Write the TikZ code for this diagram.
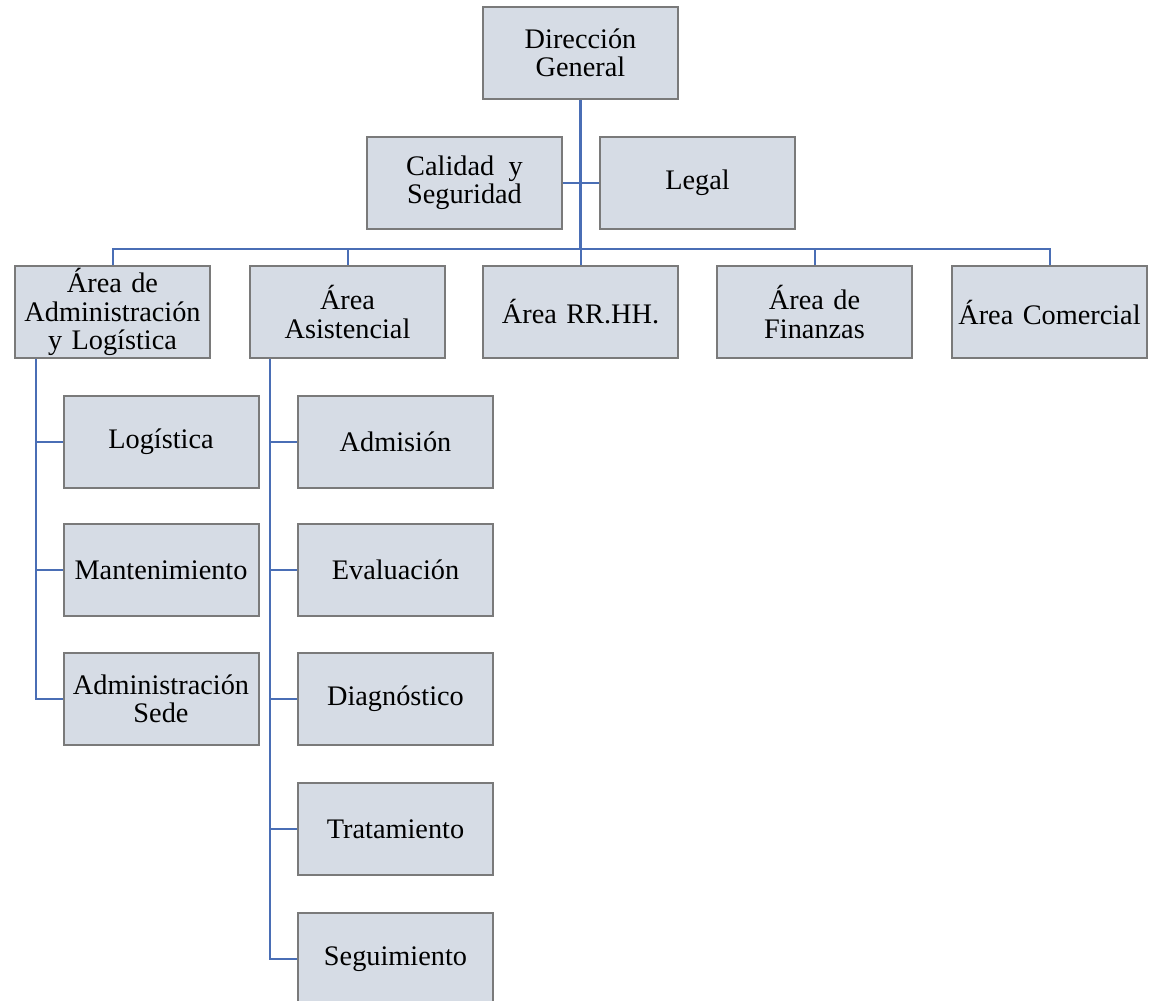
\documentclass[tikz,border=0pt]{standalone}
\usepackage{fontspec}
\setmainfont{Liberation Serif}
\usetikzlibrary{calc}
\definecolor{boxfill}{HTML}{D6DCE5}
\definecolor{boxline}{HTML}{7A7A7A}
\definecolor{conn}{HTML}{4A6EB5}
\begin{document}
\begin{tikzpicture}[x=1pt,y=-1pt,
  box/.style={draw=boxline, line width=2pt, fill=boxfill, minimum width=195pt, minimum height=92pt,
    inner sep=0pt, align=center, text width=195pt, font=\fontsize{28.3}{28.5}\selectfont},
  link/.style={draw=conn, line width=2pt},
  trunk/.style={draw=conn, line width=3.5pt}]
\useasboundingbox (0,0) rectangle (1149,1001);
% top
\node[box] (dir) at (580.5,53) {Dirección\\General};
\node[box] (cal) at (464.5,182.5) {Calidad\hspace{5pt} y\\Seguridad};
\node[box] (leg) at (697.5,182.5) {Legal};
% row 2
\node[box] (adm) at (112.5,312) {Área de\\Administración\\y Logística};
\node[box] (asi) at (347.5,312) {Área\\Asistencial};
\node[box] (rrh) at (580.5,312) {Área RR.HH.};
\node[box] (fin) at (814.5,312) {Área de\\Finanzas};
\node[box] (com) at (1049.5,312) {Área Comercial};
% left column
\node[box] (log) at (161,442) {Logística};
\node[box] (man) at (161,570) {Mantenimiento};
\node[box] (sed) at (161,699) {Administración\\Sede};
% right column
\node[box] (adi) at (395.5,442) {Admisión};
\node[box] (eva) at (395.5,570) {Evaluación};
\node[box] (dia) at (395.5,699) {Diagnóstico};
\node[box] (tra) at (395.5,829) {Tratamiento};
\node[box] (seg) at (395.5,959) {Seguimiento};
% connectors
\coordinate (bus) at (580.5,249);
\draw[link] (cal.east) -- (leg.west);
\draw[link] (adm.north) |- (bus) -| (com.north);
\draw[link] (asi.north) -- (asi.north |- bus);
\draw[link] (fin.north) -- (fin.north |- bus);
\draw[trunk] (dir.south) -- (bus);
\draw[link] (bus) -- (rrh.north);
% left column
\coordinate (ls) at ($(adm.south west)+(22,0)$);
\draw[link] (ls) |- (sed.west);
\draw[link] (ls |- log.west) -- (log.west);
\draw[link] (ls |- man.west) -- (man.west);
% right column
\coordinate (rs) at ($(asi.south west)+(21,0)$);
\draw[link] (rs) |- (seg.west);
\draw[link] (rs |- adi.west) -- (adi.west);
\draw[link] (rs |- eva.west) -- (eva.west);
\draw[link] (rs |- dia.west) -- (dia.west);
\draw[link] (rs |- tra.west) -- (tra.west);
\end{tikzpicture}
\end{document}
